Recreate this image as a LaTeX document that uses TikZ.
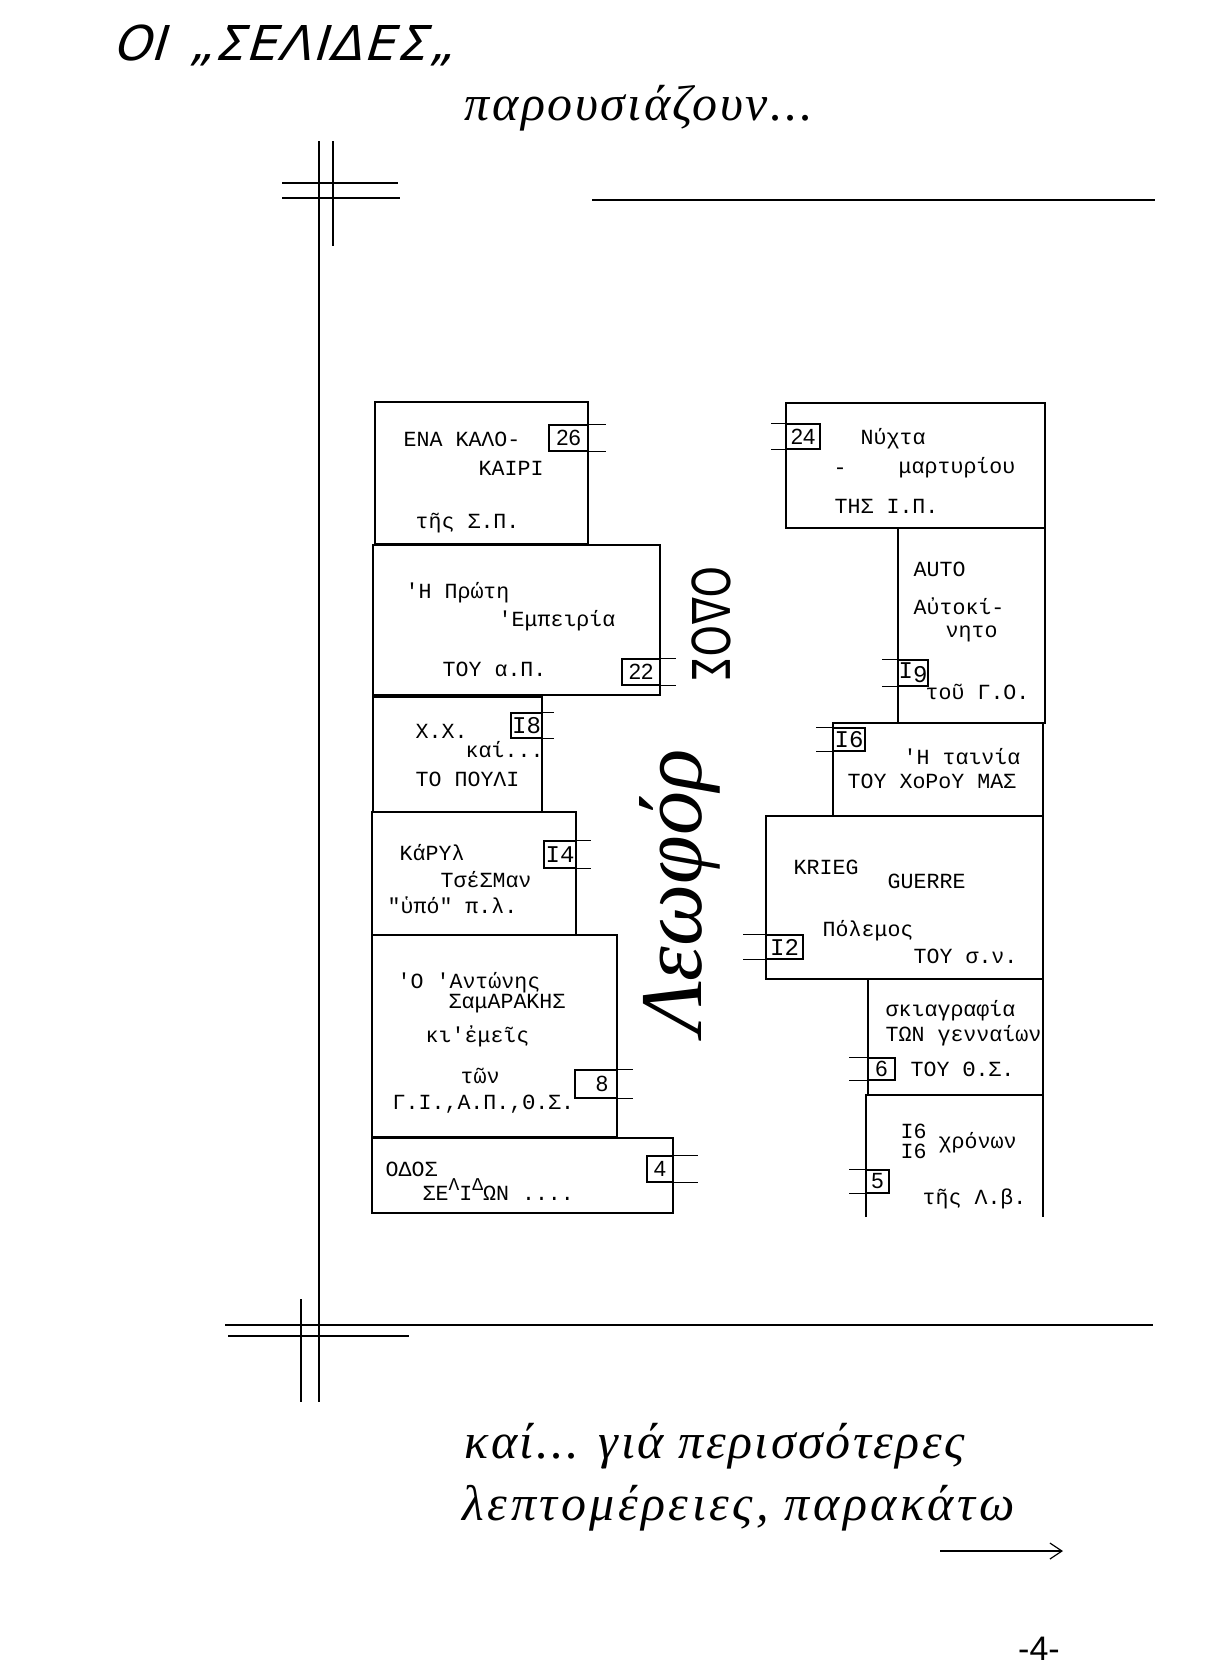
\documentclass[tikz,border=0pt]{standalone}
\usepackage{fontspec}
\setmainfont{Liberation Serif}
\newfontfamily\typew{Liberation Mono}
\newfontfamily\digitfont{Liberation Sans}
\newfontfamily\capsfont{DejaVu Sans}[FakeSlant=0.3]
\newfontfamily\roadfont{DejaVu Sans}
\newfontfamily\handfont{Liberation Serif}
\usetikzlibrary{positioning,arrows.meta}
\tikzset{
plan/.style={
    x=0.5pt,
    y=-0.5pt,
    line width=0.7pt
},
box/.style={
    draw,
    line width=0.8pt
},
frame/.style={
    line width=0.6pt
},
numbox/.style={
    draw,
    inner sep=0pt,
    line width=0.6pt,
    font=\digitfont\fontsize{11}{12}\selectfont
},
typed/.style={
    anchor=base west,
    inner sep=0pt,
    font=\typew\fontsize{10.8}{12}\selectfont
},
hand/.style={
    anchor=base west,
    inner sep=0pt,
    font=\handfont\itshape\fontsize{25}{28}\selectfont\addfontfeature{LetterSpace=#1}
},
hand/.default=5}

\begin{document}
\begin{tikzpicture}[plan]
\useasboundingbox (0,0) rectangle (1205,1666);

% handwritten heading
\node[anchor=base west, inner sep=0pt, font=\capsfont\fontsize{24}{26}\selectfont] (title) at (112,60) {ΟΙ\hspace{12pt}„\addfontfeature{LetterSpace=4}ΣΕΛΙΔΕΣ„};
\node[hand] (present) at (464,120) {παρουσιάζουν...};

% page frame and crop marks
\draw[frame] (319,141) -- (319,1402);
\draw[frame] (333,141) -- (333,246);
\draw[frame] (282,183) -- (398,183);
\draw[frame] (282,198) -- (400,198);
\draw[frame] (592,200) -- (1155,200);
\draw[frame] (225,1325) -- (1153,1325);
\draw[frame] (228,1336) -- (409,1336);
\draw[frame] (301,1299) -- (301,1402);

% left column
\draw[box] (375,402) rectangle (588,544);
\draw[box] (373,545) rectangle (660,695);
\draw[box] (373,697) rectangle (542,812);
\draw[box] (372,812) rectangle (576,935);
\draw[box] (372,935) rectangle (617,1137);
\draw[box] (372,1138) rectangle (673,1213);

% right column
\draw[box] (786,403) rectangle (1045,528);
\draw[box] (898,528) rectangle (1045,723);
\draw[box] (833,723) rectangle (1043,816);
\draw[box] (766,816) rectangle (1043,979);
\draw[box] (868,979) rectangle (1043,1095);
\draw[box] (866,1217) -- (866,1095) -- (1043,1095) -- (1043,1217);

% numbers
\node[numbox, minimum width=19.5pt, minimum height=13pt] (n26) at (568.5,438) {26};
\node[numbox, minimum width=19pt, minimum height=13pt]   (n22) at (641,672) {22};
\node[numbox, minimum width=15.5pt, minimum height=12.5pt, font=\typew\fontsize{12}{12}\selectfont] (n18) at (526.5,725.5) {I8};
\node[numbox, minimum width=16pt, minimum height=13.5pt, font=\typew\fontsize{12}{12}\selectfont]   (n14) at (560,854.5) {I4};
\node[numbox, minimum width=21pt, minimum height=14pt]   (n8)  at (596,1084) {\hspace{6pt}8};
\node[numbox, minimum width=13pt, minimum height=13pt]   (n4)  at (660,1169) {4};
\node[numbox, minimum width=17pt, minimum height=12.5pt] (n24) at (803,436.5) {24};
\node[numbox, minimum width=15pt, minimum height=13pt, font=\typew\fontsize{12}{12}\selectfont]   (n19) at (913,673) {I\raisebox{-2pt}{9}};
\node[numbox, minimum width=16pt, minimum height=11.5pt, font=\typew\fontsize{12}{12}\selectfont] (n16) at (849,739.5) {I6};
\node[numbox, minimum width=18.5pt, minimum height=12pt, font=\typew\fontsize{12}{12}\selectfont]  (n12) at (784.5,947) {I2};
\node[numbox, minimum width=13.5pt, minimum height=11pt] (n6)  at (881.5,1069) {6};
\node[numbox, minimum width=11.5pt, minimum height=11.5pt] (n5) at (877.5,1181.5) {5};

\foreach \n/\d in {n26/17, n22/15, n18/11, n14/14, n8/15, n4/24}
    \draw[frame] (\n.north east) -- ++(\d,0) (\n.south east) -- ++(\d,0);
\foreach \n/\d in {n24/14, n19/15, n16/16, n12/22, n6/18, n5/16}
    \draw[frame] (\n.north west) -- ++(-\d,0) (\n.south west) -- ++(-\d,0);

% marks on the right side of the second box
\draw[line width=1.4pt] (660,570) -- (660,602);

% typed titles, left
\node[typed] (kalo1) at (403,446) {ΕΝΑ ΚΑΛΟ-};
\node[typed] (kalo2) at (478,475) {ΚΑΙΡΙ};
\node[typed] (kalo3) at (415,528) {τῆς Σ.Π.};
\node[typed] (prot1) at (405,598) {'Η Πρώτη};
\node[typed] (prot2) at (498,626) {'Εμπειρία};
\node[typed] (prot3) at (442,676) {ΤΟΥ α.Π.};
\node[typed] (poul1) at (415,738) {Χ.Χ.};
\node[typed] (poul2) at (465,757) {καί...};
\node[typed] (poul3) at (415,786) {ΤΟ ΠΟΥΛΙ};
\node[typed] (ches1) at (399,860) {ΚάΡΥλ};
\node[typed] (ches2) at (440,887) {ΤσέΣΜαν};
\node[typed] (ches3) at (387,913) {"ὑπό" π.λ.};
\node[typed] (sama1) at (397,988) {'Ο 'Αντώνης};
\node[typed] (sama2) at (448,1008) {ΣαμΑΡΑΚΗΣ};
\node[typed] (sama3) at (425,1042) {κι'ἐμεῖς};
\node[typed] (sama4) at (460,1083) {τῶν};
\node[typed] (sama5) at (392,1109) {Γ.Ι.,Α.Π.,Θ.Σ.};
\node[typed] (odos1) at (385,1176) {ΟΔΟΣ};
\node[typed] (odos2) at (422,1200) {ΣΕ\raisebox{5pt}{\fontsize{9}{9}\selectfont Λ}Ι\raisebox{5pt}{\fontsize{9}{9}\selectfont Δ}ΩΝ ....};

% typed titles, right
\node[typed] (nyx1) at (860,444) {Νύχτα};
\node[typed] (nyxd) at (833,474) {-};
\node[typed] (nyx2) at (898,473) {μαρτυρίου};
\node[typed] (nyx3) at (834,513) {ΤΗΣ Ι.Π.};
\node[typed] (auto1) at (913,576) {AUTO};
\node[typed] (auto2) at (913,614) {Αὐτοκί-};
\node[typed] (auto3) at (945,637) {νητο};
\node[typed] (auto4) at (925,699) {τοῦ Γ.Ο.};
\node[typed] (tain1) at (903,764) {'Η ταινία};
\node[typed] (tain2) at (847,788) {ΤΟΥ ΧοΡοΥ ΜΑΣ};
\node[typed] (krieg1) at (793,874) {KRIEG};
\node[typed] (krieg2) at (887,888) {GUERRE};
\node[typed] (krieg3) at (822,936) {Πόλεμος};
\node[typed] (krieg4) at (913,963) {ΤΟΥ σ.ν.};
\node[typed] (skia1) at (885,1016) {σκιαγραφία};
\node[typed] (skia2) at (885,1041) {ΤΩΝ γενναίων};
\node[typed] (skia3) at (910,1076) {ΤΟΥ Θ.Σ.};
\node[typed] (xron1) at (900,1138) {I6};
\node[typed] (xron2) at (900,1158) {I6};
\node[typed] (xron3) at (938,1148) {χρόνων};
\node[typed] (xron4) at (922,1204) {τῆς Λ.β.};

% handwritten street names
\node[inner sep=0pt, rotate=-90, font=\roadfont\fontsize{20}{20}\selectfont] (road) at (711,624) {\scalebox{1}[1.3]{ΟΔΟΣ}};
\node[inner sep=0pt, rotate=90, font=\handfont\itshape\fontsize{44}{44}\selectfont] (avenue) at (680,892) {Λεωφόρ};

% footer
\node[hand] (more1) at (464,1458) {καί... γιά περισσότερες};
\node[hand=7] (more2) at (462,1520) {λεπτομέρειες, παρακάτω};
\coordinate (arrL) at (940,1551);
\coordinate (arrR) at (1063,1551);
\draw[-{Straight Barb[length=6pt,width=8pt]}, line width=0.6pt] (arrL) -- (arrR);
\node[inner sep=0pt, font=\digitfont\fontsize{17}{17}\selectfont] (page) at (1039,1649) {-4-};
\end{tikzpicture}
\end{document}
